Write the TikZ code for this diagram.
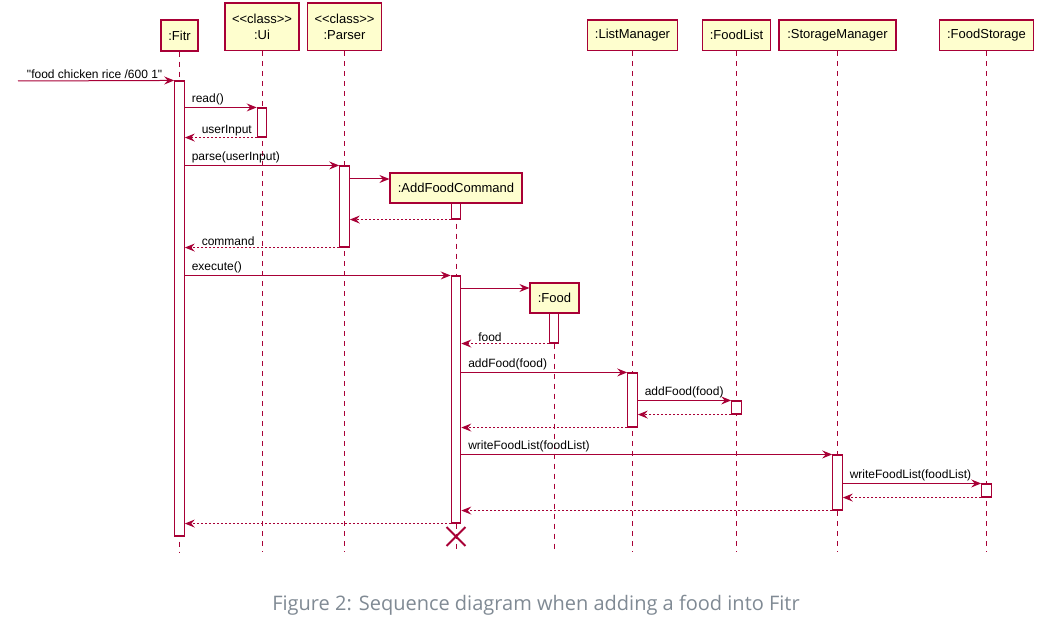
\documentclass[tikz,border=0pt]{standalone}
\usepackage{fontspec}
\setmainfont{Liberation Sans}[Ligatures=TeXOff]
\newfontfamily\capfont{Open Sans}
\usetikzlibrary{arrows.meta,shapes.misc}
\definecolor{umlred}{HTML}{A80036}
\definecolor{umlfill}{HTML}{FEFECE}
\definecolor{capgray}{RGB}{128,138,148}

% activation bar: name, x, top y, bottom y
\newcommand\activation[4]{\node[act, minimum height={#4-#3}] (#1) at (#2,{(#3+#4)/2}) {};}

\begin{document}
\begin{tikzpicture}[x=1pt,y=-1pt,
  part/.style={draw=umlred, fill=umlfill, line width=1.2pt, inner sep=0pt,
               font=\fontsize{13}{15.5}\selectfont, align=center},
  act/.style={draw=umlred, fill=white, line width=1.1pt, minimum width=9.5pt, inner sep=0pt},
  life/.style={draw=umlred, line width=0.9pt, dash pattern=on 5pt off 5pt},
  msg/.style={draw=umlred, line width=1pt, -{Stealth[length=10pt,width=8pt,inset=3.5pt]}},
  ret/.style={msg, dash pattern=on 2pt off 2pt},
  lbl/.style={font=\fontsize{12}{14}\selectfont, inner sep=1.5pt, anchor=south west}
]
\fill[white] (0,0) rectangle (1050,623);
\useasboundingbox (0,0) rectangle (1050,623);

% participants
\node[part, minimum width=37,  minimum height=31]   (fitr) at (179.5,35.5)  {:Fitr};
\node[part, minimum width=74,  minimum height=47.5] (ui)   at (262,26.75)   {<<class>>\\:Ui};
\node[part, minimum width=74,  minimum height=47.5] (prs)  at (344.5,26.75) {<<class>>\\:Parser};
\node[part, minimum width=90,  minimum height=30.5] (lm)   at (632.5,35.25) {:ListManager};
\node[part, minimum width=68,  minimum height=30.5] (fl)   at (736.5,35.25) {:FoodList};
\node[part, minimum width=117, minimum height=30.5] (sm)   at (837.5,35.25) {:StorageManager};
\node[part, minimum width=94,  minimum height=30.5] (fs)   at (986.5,35.25) {:FoodStorage};
\node[part, minimum width=132, minimum height=30]   (acm)  at (456,188)     {:AddFoodCommand};
\node[part, minimum width=49,  minimum height=30]   (food) at (554.5,298)   {:Food};

% lifelines
\foreach \p in {fitr,ui,prs,lm,fl,sm,fs,acm,food}
  \draw[life] (\p.south) -- (\p.south |- 0,552);

% activation bars
\activation{fitrA}{179.5}{81}{536}
\activation{uiA}{262}{108}{137}
\activation{pA}{344.5}{166}{247}
\activation{acmB}{456}{203}{219}
\activation{acmA}{456}{276}{523}
\activation{foodA}{554}{313}{343}
\activation{lmA}{632.5}{373}{427}
\activation{flA}{736.5}{401}{414}
\activation{smA}{837.5}{455}{510}
\activation{fsA}{986.5}{484}{497}

% incoming call
\coordinate (src) at (18,81);
\draw[msg] (src) -- (fitrA.north west)
  node[lbl, at start, xshift=7pt] {"food chicken rice /600 1"};

% Fitr <-> Ui / Parser
\draw[msg] (fitrA.east |- uiA.north) -- (uiA.north west)
  node[lbl, at start, xshift=5pt] {read()};
\draw[ret] (uiA.south west) -- (fitrA.east |- uiA.south)
  node[lbl, at end, xshift=15pt] {userInput};
\draw[msg] (fitrA.east |- pA.north) -- (pA.north west)
  node[lbl, at start, xshift=5pt] {parse(userInput)};
\draw[msg] (pA.east |- 0,179) -- (acm.west |- 0,179);
\draw[ret] (acmB.south west) -- (pA.east |- acmB.south);
\draw[ret] (pA.south west) -- (fitrA.east |- pA.south)
  node[lbl, at end, xshift=15pt] {command};

% command execution
\draw[msg] (fitrA.east |- acmA.north) -- (acmA.north west)
  node[lbl, at start, xshift=5pt] {execute()};
\draw[msg] (acmA.east |- 0,288) -- (food.west |- 0,288);
\draw[ret] (foodA.south west) -- (acmA.east |- foodA.south)
  node[lbl, at end, xshift=15pt] {food};
\draw[msg] (acmA.east |- lmA.north) -- (lmA.north west)
  node[lbl, at start, xshift=5pt] {addFood(food)};
\draw[msg] (lmA.east |- flA.north) -- (flA.north west)
  node[lbl, at start, xshift=5pt] {addFood(food)};
\draw[ret] (flA.south west) -- (lmA.east |- flA.south);
\draw[ret] (lmA.south west) -- (acmA.east |- lmA.south);
\draw[msg] (acmA.east |- smA.north) -- (smA.north west)
  node[lbl, at start, xshift=5pt] {writeFoodList(foodList)};
\draw[msg] (smA.east |- fsA.north) -- (fsA.north west)
  node[lbl, at start, xshift=5pt] {writeFoodList(foodList)};
\draw[ret] (fsA.south west) -- (smA.east |- fsA.south);
\draw[ret] (smA.south west) -- (acmA.east |- smA.south);
\draw[ret] (acmA.south west) -- (fitrA.east |- acmA.south);

% destruction of the command object
\node[draw=umlred, cross out, line width=1.8pt, minimum size=17pt, inner sep=0pt] (kill) at (456,536.5) {};

% caption
\node[font=\capfont\fontsize{20}{24}\selectfont, text=capgray] (cap) at (536,605)
  {Figure 2: Sequence diagram when adding a food into Fitr};
\end{tikzpicture}
\end{document}
